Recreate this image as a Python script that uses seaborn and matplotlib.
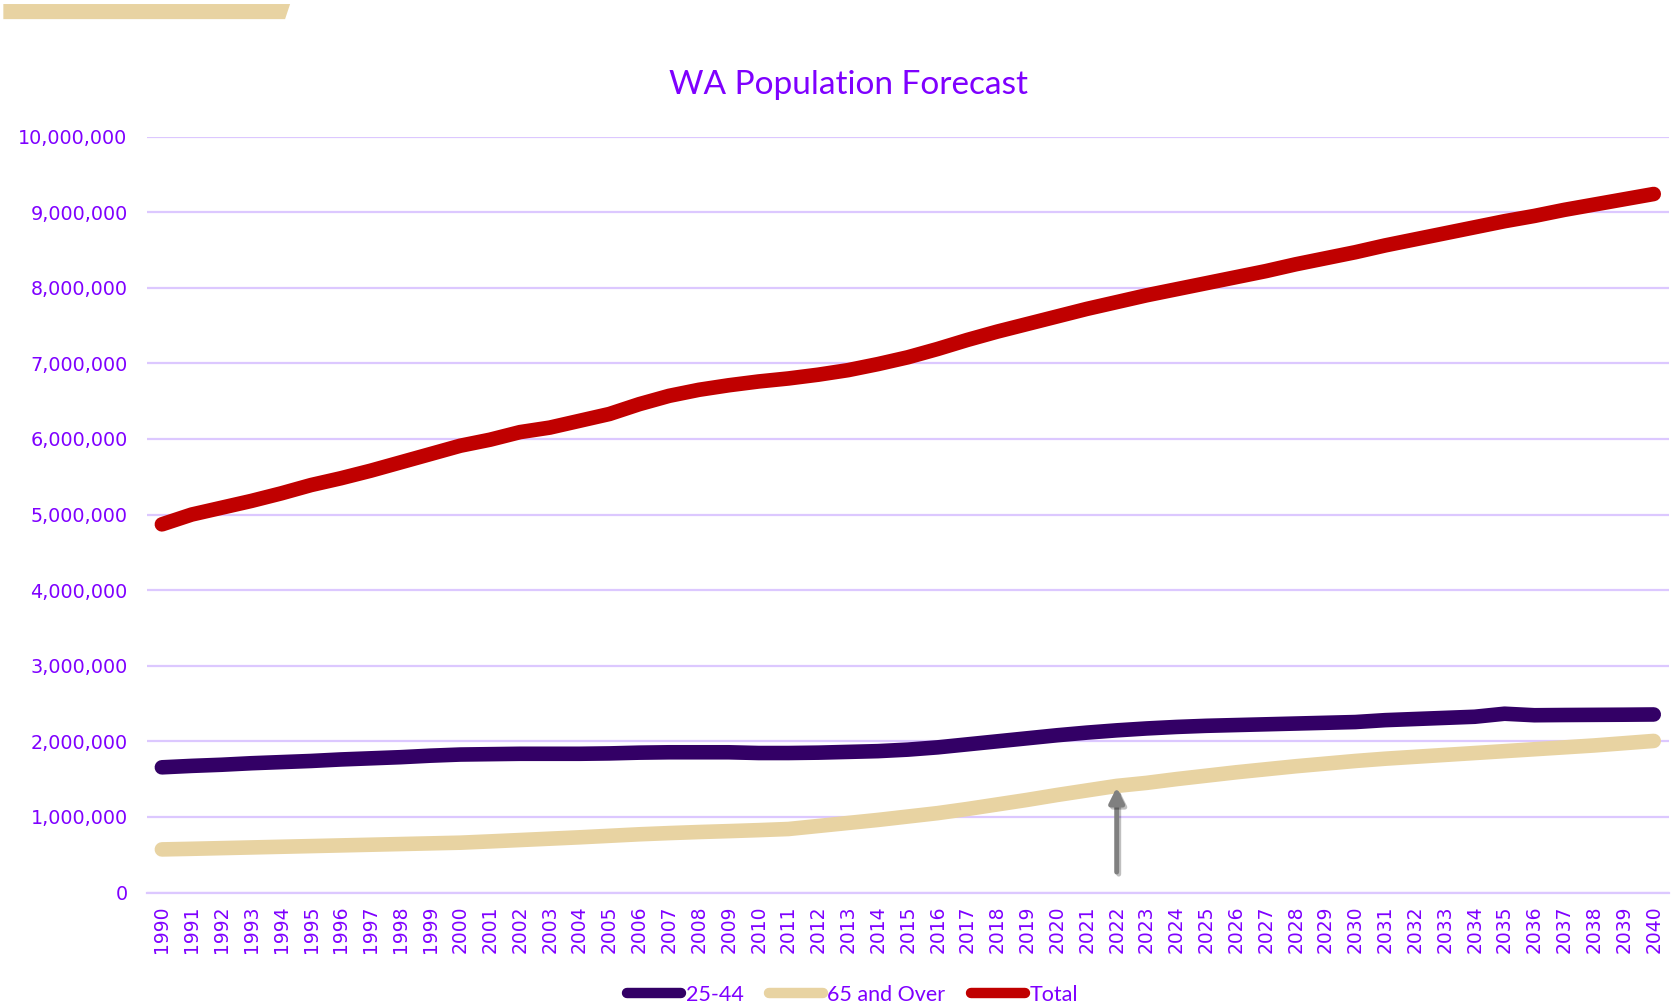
import numpy as np
import pandas as pd
import matplotlib
matplotlib.use("Agg")
import matplotlib.pyplot as plt
import seaborn as sns
from matplotlib.patches import Polygon
from matplotlib.ticker import FuncFormatter, FixedLocator
import matplotlib.patheffects as pe

# valores (milhoes)
anos = list(range(1990, 2041))
total = [4.87, 5.00, 5.09, 5.18, 5.28, 5.39, 5.48, 5.58, 5.69, 5.80,
         5.91, 5.99, 6.09, 6.15, 6.24, 6.33, 6.46, 6.57, 6.65, 6.71,
         6.76, 6.80, 6.85, 6.91, 6.99, 7.08, 7.19, 7.31, 7.42, 7.52,
         7.62, 7.72, 7.81, 7.90, 7.98, 8.06, 8.14, 8.22, 8.31, 8.39,
         8.47, 8.56, 8.64, 8.72, 8.80, 8.88, 8.95, 9.03, 9.10, 9.17,
         9.24]
faixa_25_44 = [1.656, 1.675, 1.69, 1.71, 1.725, 1.74, 1.76, 1.775, 1.79, 1.81,
               1.825, 1.83, 1.835, 1.835, 1.835, 1.84, 1.85, 1.855, 1.855, 1.855,
               1.845, 1.845, 1.85, 1.86, 1.87, 1.89, 1.92, 1.96, 2.00, 2.04,
               2.08, 2.115, 2.145, 2.17, 2.19, 2.205, 2.215, 2.225, 2.235, 2.245,
               2.255, 2.28, 2.295, 2.31, 2.325, 2.365, 2.345, 2.348, 2.35, 2.352,
               2.355]
faixa_65 = [0.57, 0.578, 0.587, 0.596, 0.605, 0.614, 0.623, 0.632, 0.641, 0.65,
            0.659, 0.676, 0.694, 0.712, 0.73, 0.75, 0.77, 0.786, 0.80, 0.812,
            0.825, 0.84, 0.88, 0.92, 0.96, 1.005, 1.05, 1.105, 1.165, 1.225,
            1.29, 1.35, 1.41, 1.45, 1.50, 1.545, 1.59, 1.63, 1.67, 1.705,
            1.74, 1.77, 1.795, 1.82, 1.845, 1.87, 1.895, 1.92, 1.945, 1.975,
            2.005]
series = ["25-44", "65 and Over", "Total"]
cores = ["#330066", "#E8D3A2", "#C00000"]
seta_ano = 2022
seta_base, seta_ponta = 0.27e6, 1.39e6

df = pd.DataFrame({"ano": anos * 3,
                   "pop": np.array(faixa_25_44 + faixa_65 + total) * 1e6,
                   "serie": sum([[s] * len(anos) for s in series], [])})

roxo = "#7F00FF"
lavanda = "#DCC8FF"

sns.set_style("white")
plt.rcParams["font.family"] = ["DejaVu Sans"]

fig = plt.figure(figsize=(16.72, 10.07), dpi=100)
ax = fig.add_axes([0.0879, 0.1137, 0.9101, 0.7507])

sns.lineplot(data=df, x="ano", y="pop", hue="serie", hue_order=series,
             palette=cores, linewidth=10.5, ax=ax, legend=True,
             solid_capstyle="round", solid_joinstyle="round")

ax.set_xlim(1989.5, 2040.5)
ax.set_ylim(0, 10e6)
ax.set_yticks(np.arange(0, 10.1e6, 1e6))
ax.yaxis.set_major_formatter(FuncFormatter(lambda v, p: f"{int(v):,}"))
ax.set_xticks(anos)
ax.set_xticklabels([str(a) for a in anos], rotation=90)
ax.xaxis.set_minor_locator(FixedLocator(np.arange(1989.5, 2041, 1)))
ax.tick_params(axis="x", which="major", length=0, pad=9, labelsize=13.5, labelcolor=roxo)
ax.tick_params(axis="x", which="minor", length=7, width=1.3, color=lavanda)
ax.tick_params(axis="y", length=0, pad=14, labelsize=13.8, labelcolor=roxo)
ax.grid(axis="y", color=lavanda, linewidth=1.6)
ax.set_axisbelow(True)
for s in ["left", "right", "top"]:
    ax.spines[s].set_visible(False)
ax.spines["bottom"].set_color(lavanda)
ax.spines["bottom"].set_linewidth(1.6)
ax.set_xlabel("")
ax.set_ylabel("")

fig.text(0.5075, 0.916, "WA Population Forecast", ha="center", va="center",
         fontsize=24, color=roxo, family=["Lato", "DejaVu Sans"])

# seta cinza
ax.annotate("", xy=(seta_ano, seta_ponta), xytext=(seta_ano, seta_base),
            arrowprops=dict(arrowstyle="-|>", color="#808080", lw=3.5,
                            mutation_scale=22, shrinkA=0, shrinkB=0,
                            path_effects=[pe.SimpleLineShadow(offset=(1.5, -1.5), alpha=0.25),
                                          pe.Normal()]))

handles, labels = ax.get_legend_handles_labels()
ax.get_legend().remove()
leg = fig.legend(handles, labels, loc="center", bbox_to_anchor=(0.51, 0.012), ncol=3,
                 frameon=False, handlelength=2.5, handletextpad=0.2,
                 columnspacing=1.2, borderpad=0,
                 prop={"family": ["Lato", "DejaVu Sans"], "size": 15.5})
for h in leg.get_lines():
    h.set_linewidth(7.5)
    h.set_solid_capstyle("round")
for t in leg.get_texts():
    t.set_color(roxo)

# faixa decorativa no canto
fig.patches.append(Polygon([[0.002, 0.996], [0.1735, 0.996], [0.1705, 0.981], [0.002, 0.981]],
                           closed=True, transform=fig.transFigure, facecolor="#E8D3A2",
                           edgecolor="none"))

plt.savefig("out.png", dpi=100)
plt.close()
